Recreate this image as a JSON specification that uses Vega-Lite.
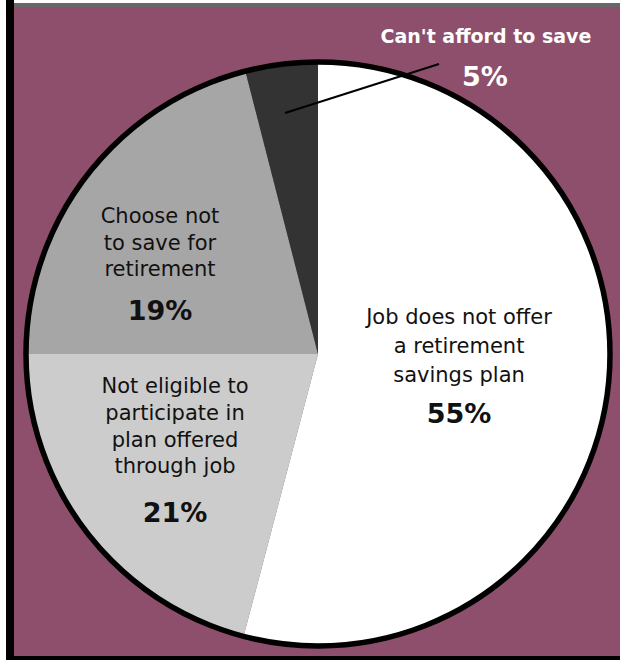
{
  "$schema": "https://vega.github.io/schema/vega-lite/v6.json",
  "width": 610,
  "height": 655,
  "autosize": {"type": "none"},
  "padding": {"left": 10, "top": 5, "right": 0, "bottom": 0},
  "background": "#FFFFFF",
  "config": {"view": {"fill": "#8E4F6C", "stroke": null}, "font": "DejaVu Sans"},
  "data": {
    "values": [
      {"key": "job", "order": 1, "name": "Job does not offer\na retirement\nsavings plan", "label": "55%", "pct": 55, "share": 54.1},
      {"key": "noteligible", "order": 2, "name": "Not eligible to\nparticipate in\nplan offered\nthrough job", "label": "21%", "pct": 21, "share": 20.9},
      {"key": "choose", "order": 3, "name": "Choose not\nto save for\nretirement", "label": "19%", "pct": 19, "share": 21.0},
      {"key": "cant", "order": 4, "name": "Can't afford to save", "label": "5%", "pct": 5, "share": 4.0}
    ]
  },
  "layer": [
    {
      "mark": {"type": "arc", "radius": 292, "xOffset": 3, "yOffset": 21.5, "stroke": null},
      "encoding": {
        "theta": {"field": "share", "type": "quantitative", "stack": true},
        "order": {"field": "order", "type": "quantitative"},
        "color": {"field": "key", "type": "nominal", "legend": null,
          "scale": {"domain": ["job", "noteligible", "choose", "cant"], "range": ["#FFFFFF", "#CCCCCC", "#A6A6A6", "#333333"]}}
      }
    },
    {
      "transform": [{"aggregate": [{"op": "sum", "field": "share", "as": "total"}]}],
      "mark": {"type": "arc", "radius": 292, "xOffset": 3, "yOffset": 21.5, "fill": "transparent", "stroke": "#000000", "strokeWidth": 5.5},
      "encoding": {"theta": {"field": "total", "type": "quantitative", "stack": true}}
    },
    {
      "transform": [{"filter": "datum.key === 'cant'"}],
      "mark": {"type": "rule", "color": "#000000", "strokeWidth": 2},
      "encoding": {"x": {"value": 275}, "y": {"value": 108}, "x2": {"value": 429}, "y2": {"value": 59}}
    },
    {
      "mark": {"type": "text", "radius": 142, "dx": 3.2, "dy": -26.7, "align": "center", "baseline": "alphabetic", "lineBreak": "\n", "lineHeight": 29, "fontSize": 21, "color": "#111111"},
      "encoding": {
        "theta": {"field": "share", "type": "quantitative", "stack": true},
        "order": {"field": "order", "type": "quantitative"},
        "detail": {"field": "key", "type": "nominal"},
        "text": {"condition": {"test": "datum.key === 'job'", "field": "name"}, "value": ""}
      }
    },
    {
      "mark": {"type": "text", "radius": 142, "dx": 3.2, "dy": 72.3, "align": "center", "baseline": "alphabetic", "fontSize": 27, "fontWeight": "bold", "color": "#111111"},
      "encoding": {
        "theta": {"field": "share", "type": "quantitative", "stack": true},
        "order": {"field": "order", "type": "quantitative"},
        "detail": {"field": "key", "type": "nominal"},
        "text": {"condition": {"test": "datum.key === 'job'", "field": "label"}, "value": ""}
      }
    },
    {
      "mark": {"type": "text", "radius": 180.5, "dx": 3, "dy": -49.4, "align": "center", "baseline": "alphabetic", "lineBreak": "\n", "lineHeight": 26.7, "fontSize": 21, "color": "#111111"},
      "encoding": {
        "theta": {"field": "share", "type": "quantitative", "stack": true},
        "order": {"field": "order", "type": "quantitative"},
        "detail": {"field": "key", "type": "nominal"},
        "text": {"condition": {"test": "datum.key === 'noteligible'", "field": "name"}, "value": ""}
      }
    },
    {
      "mark": {"type": "text", "radius": 180.5, "dx": 3, "dy": 79, "align": "center", "baseline": "alphabetic", "fontSize": 27, "fontWeight": "bold", "color": "#111111"},
      "encoding": {
        "theta": {"field": "share", "type": "quantitative", "stack": true},
        "order": {"field": "order", "type": "quantitative"},
        "detail": {"field": "key", "type": "nominal"},
        "text": {"condition": {"test": "datum.key === 'noteligible'", "field": "label"}, "value": ""}
      }
    },
    {
      "mark": {"type": "text", "radius": 200, "dx": 3, "dy": 13.1, "align": "center", "baseline": "alphabetic", "lineBreak": "\n", "lineHeight": 26.7, "fontSize": 21, "color": "#111111"},
      "encoding": {
        "theta": {"field": "share", "type": "quantitative", "stack": true},
        "order": {"field": "order", "type": "quantitative"},
        "detail": {"field": "key", "type": "nominal"},
        "text": {"condition": {"test": "datum.key === 'choose'", "field": "name"}, "value": ""}
      }
    },
    {
      "mark": {"type": "text", "radius": 200, "dx": 3, "dy": 110.1, "align": "center", "baseline": "alphabetic", "fontSize": 27, "fontWeight": "bold", "color": "#111111"},
      "encoding": {
        "theta": {"field": "share", "type": "quantitative", "stack": true},
        "order": {"field": "order", "type": "quantitative"},
        "detail": {"field": "key", "type": "nominal"},
        "text": {"condition": {"test": "datum.key === 'choose'", "field": "label"}, "value": ""}
      }
    },
    {
      "mark": {"type": "text", "radius": 290, "dx": 207.3, "dy": -1.8, "align": "center", "baseline": "alphabetic", "fontSize": 19, "fontWeight": "bold", "color": "#FFFFFF"},
      "encoding": {
        "theta": {"field": "share", "type": "quantitative", "stack": true},
        "order": {"field": "order", "type": "quantitative"},
        "detail": {"field": "key", "type": "nominal"},
        "text": {"condition": {"test": "datum.key === 'cant'", "field": "name"}, "value": ""}
      }
    },
    {
      "mark": {"type": "text", "radius": 290, "dx": 206.3, "dy": 41.2, "align": "center", "baseline": "alphabetic", "fontSize": 27, "fontWeight": "bold", "color": "#FFFFFF"},
      "encoding": {
        "theta": {"field": "share", "type": "quantitative", "stack": true},
        "order": {"field": "order", "type": "quantitative"},
        "detail": {"field": "key", "type": "nominal"},
        "text": {"condition": {"test": "datum.key === 'cant'", "field": "label"}, "value": ""}
      }
    },
    {
      "transform": [{"filter": "datum.order === 1"}],
      "mark": {"type": "rule", "color": "#686868", "strokeWidth": 4},
      "encoding": {"y": {"value": 0}}
    },
    {
      "transform": [{"filter": "datum.order === 1"}],
      "mark": {"type": "rule", "color": "#000000", "strokeWidth": 8},
      "encoding": {"x": {"value": 0}, "y": {"value": -5}, "y2": {"value": 655}}
    },
    {
      "transform": [{"filter": "datum.order === 1"}],
      "mark": {"type": "rule", "color": "#000000", "strokeWidth": 8},
      "encoding": {"y": {"value": 655}}
    }
  ]
}
